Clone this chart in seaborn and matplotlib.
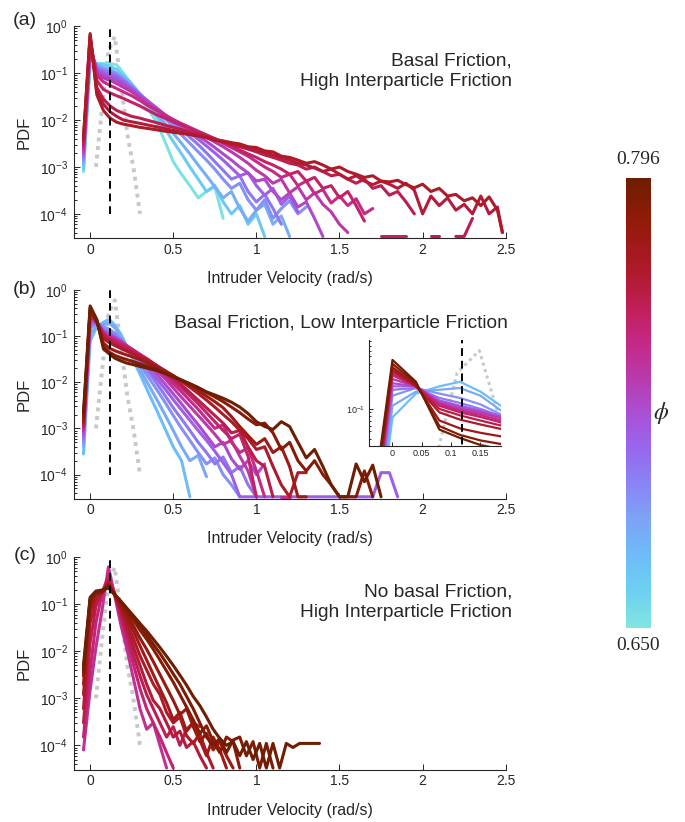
import numpy as np
import pandas as pd
import matplotlib
matplotlib.use('Agg')
import matplotlib.pyplot as plt
from matplotlib.colors import LinearSegmentedColormap, Normalize
from matplotlib.cm import ScalarMappable
from matplotlib.ticker import LogLocator, NullFormatter
import seaborn as sns

nan = np.nan

PHI_MIN = 0.650
PHI_MAX = 0.796
CBAR_POS = [0, 0.085, 0.16, 0.25, 0.32, 0.40, 0.47, 0.55, 0.63, 0.70, 0.79, 0.90, 1.0]
CBAR_COLORS = ['#80e6e0', '#6ccff2', '#6ebcf8', '#7ea0f6', '#8a84f6', '#9866ee', '#a852d8',
               '#b83cb0', '#c42a88', '#c22060', '#b01a2c', '#951a0a', '#6e1e02']

X_TICKS = [0, 0.5, 1, 1.5, 2, 2.5]
X_TICK_LABELS = ['0', '0.5', '1', '1.5', '2', '2.5']
INSET_TICKS = [0, 0.05, 0.1, 0.15]
INSET_TICK_LABELS = ['0', '0.05', '0.1', '0.15']

MEAN_VEL = 0.118
MEAN_SPAN = [1e-4, 1.0]
NOISE_VEL = [0.035, 0.073, 0.11, 0.148, 0.186, 0.224, 0.262, 0.3]
NOISE_PDF = [1e-3, 0.02, 0.3, 0.6, 0.06, 5e-3, 9e-4, 1e-4]

FLOOR = 3.3e-5

# (a) basal friction, high interparticle friction
VEL_A = [-0.04, 0.0, 0.04, 0.08, 0.12, 0.16, 0.2, 0.25, 0.3, 0.35, 0.4, 0.45, 0.5, 0.55, 0.6,
         0.65, 0.7, 0.75, 0.8, 0.85, 0.9, 0.95, 1.0, 1.05, 1.1, 1.15, 1.2, 1.25, 1.3, 1.35, 1.4,
         1.45, 1.5, 1.55, 1.6, 1.65, 1.7, 1.75, 1.8, 1.85, 1.9, 1.95, 2.0, 2.05, 2.1, 2.15, 2.2,
         2.25, 2.3, 2.35, 2.4, 2.45, 2.48]
PHI_A = [0.652, 0.666, 0.680, 0.692, 0.702, 0.712, 0.722, 0.732, 0.742, 0.750, 0.756, 0.762, 0.767]
PDF_A = [
    [8e-4, 0.14, 0.16, 0.16, 0.16, 0.15, 0.1, 0.058, 0.03, 0.017, 0.009, 0.0035, 0.0013, 7e-4,
     4e-4, 2.2e-4, 3e-4, 3.8e-4, 8e-5],
    [9e-4, 0.2, 0.16, 0.15, 0.14, 0.12, 0.09, 0.06, 0.036, 0.021, 0.012, 0.0065, 0.0035, 0.0019,
     0.001, 5.5e-4, 3e-4, 4e-4, 1.8e-4, 1e-4, 1.5e-4, 6e-5, 1e-4, FLOOR],
    [1.2e-3, 0.24, 0.15, 0.13, 0.12, 0.1, 0.08, 0.055, 0.036, 0.023, 0.014, 0.0085, 0.0052, 0.0032,
     0.0019, 0.0011, 6.5e-4, 3.8e-4, 2.2e-4, 3e-4, 1.3e-4, 7e-5, 1.2e-4, 1.6e-4, 6e-5, 9e-5, FLOOR],
    [1.4e-3, 0.27, 0.14, 0.12, 0.11, 0.095, 0.075, 0.052, 0.036, 0.025, 0.017, 0.011, 0.0072,
     0.0048, 0.0032, 0.0021, 0.0014, 9e-4, 5.5e-4, 3.5e-4, 4.5e-4, 2e-4, 1.2e-4, 2e-4, 8e-5,
     1.3e-4, 1.9e-4, 1e-4, 1.4e-4],
    [1.6e-3, 0.3, 0.13, 0.11, 0.1, 0.088, 0.07, 0.05, 0.035, 0.025, 0.018, 0.0125, 0.0088, 0.0062,
     0.0043, 0.003, 0.002, 0.0013, 8.5e-4, 5.5e-4, 6.5e-4, 3e-4, 1.8e-4, 2.6e-4, 1.3e-4, 6e-5],
    [1.8e-3, 0.33, 0.12, 0.1, 0.09, 0.08, 0.065, 0.048, 0.034, 0.025, 0.018, 0.013, 0.0098, 0.0072,
     0.0053, 0.0039, 0.0028, 0.002, 0.0014, 9.5e-4, 6.5e-4, 7.5e-4, 4e-4, 2.5e-4, 3.5e-4, 1.6e-4,
     2.4e-4, 1.1e-4],
    [2e-3, 0.37, 0.11, 0.09, 0.08, 0.07, 0.058, 0.044, 0.032, 0.024, 0.018, 0.013, 0.01, 0.0078,
     0.006, 0.0046, 0.0035, 0.0026, 0.0019, 0.0014, 0.001, 7.5e-4, 5e-4, 5.5e-4, 3e-4, 2e-4,
     2.8e-4, 1.4e-4, 1.8e-4, 8e-5, FLOOR, nan, FLOOR],
    [2.3e-3, 0.42, 0.1, 0.08, 0.07, 0.06, 0.05, 0.04, 0.03, 0.022, 0.017, 0.013, 0.0102, 0.0082,
     0.0066, 0.0053, 0.0043, 0.0034, 0.0027, 0.0021, 0.0016, 0.0012, 8.5e-4, 6.5e-4, 4.5e-4,
     5.5e-4, 2.8e-4, 3.8e-4, 2e-4, 2.8e-4, 1.6e-4, 1.1e-4, 6e-5, 4e-5],
    [2.6e-3, 0.48, 0.09, 0.065, 0.055, 0.047, 0.04, 0.033, 0.026, 0.02, 0.016, 0.0125, 0.0102,
     0.0084, 0.007, 0.0058, 0.0048, 0.004, 0.0032, 0.0026, 0.0021, 0.0017, 0.0013, 0.001, 8e-4,
     6e-4, 7e-4, 4e-4, 5e-4, 2.7e-4, 3.3e-4, 1.7e-4, 2.4e-4, 1.5e-4, 2.1e-4, 1e-4, 1.3e-4],
    [3e-3, 0.54, 0.07, 0.045, 0.038, 0.033, 0.029, 0.024, 0.02, 0.016, 0.013, 0.011, 0.0092,
     0.0078, 0.0066, 0.0056, 0.0048, 0.004, 0.0034, 0.0028, 0.0023, 0.0019, 0.0016, 0.0013,
     0.0011, 9e-4, 7e-4, 8e-4, 5e-4, 6e-4, 3.5e-4, 4e-4, 2.2e-4, 3e-4, 1.5e-4, 7e-5, nan, FLOOR,
     FLOOR, FLOOR, FLOOR],
    [3.5e-3, 0.6, 0.05, 0.028, 0.02, 0.016, 0.014, 0.012, 0.011, 0.0098, 0.0088, 0.0078, 0.007,
     0.0063, 0.0056, 0.005, 0.0045, 0.004, 0.0035, 0.0031, 0.0027, 0.0024, 0.0021, 0.0018, 0.0016,
     0.0014, 0.0012, 0.0011, 9e-4, 0.001, 8e-4, 6.5e-4, 7e-4, 5.5e-4, 4.5e-4, 5.5e-4, 3.5e-4,
     4e-4, 2.5e-4, 3e-4, 1.8e-4, 1e-4, nan, FLOOR, FLOOR, nan, FLOOR, FLOOR, 8e-5],
    [3.8e-3, 0.65, 0.04, 0.022, 0.015, 0.012, 0.01, 0.0092, 0.0085, 0.0078, 0.0072, 0.0066, 0.006,
     0.0055, 0.005, 0.0046, 0.0042, 0.0038, 0.0034, 0.0031, 0.0028, 0.0025, 0.0023, 0.002, 0.0018,
     0.0016, 0.0014, 0.0012, 0.0011, 9.5e-4, 8e-4, 9e-4, 7e-4, 5.5e-4, 6.5e-4, 5e-4, 4.2e-4, 5e-4,
     4.3e-4, 3.5e-4, 4.5e-4, 3.2e-4, 1e-4, 2.4e-4, 1.5e-4, 2.2e-4, 1.2e-4, 1.6e-4, 1e-4, 2.4e-4,
     1e-4, 1.4e-4, 4e-5],
    [4.2e-3, 0.7, 0.035, 0.016, 0.011, 0.009, 0.0082, 0.0076, 0.007, 0.0066, 0.0062, 0.0058,
     0.0055, 0.0052, 0.0049, 0.0046, 0.0043, 0.0037, 0.0036, 0.0033, 0.0031, 0.0027, 0.0026,
     0.0022, 0.0021, 0.0017, 0.0016, 0.0014, 0.0012, 0.0013, 0.0011, 9e-4, 0.001, 8e-4, 7e-4,
     6e-4, 6.5e-4, 5e-4, 4.8e-4, 5.2e-4, 4.2e-4, 3.6e-4, 4.3e-4, 3e-4, 3.5e-4, 2.4e-4, 2.6e-4,
     1.9e-4, 2.2e-4, 1.5e-4, 2.3e-4, 1.2e-4, 4e-5],
]

# (b) basal friction, low interparticle friction
VEL_B = [-0.04, 0.0, 0.04, 0.08, 0.115, 0.15, 0.185, 0.22, 0.26, 0.3, 0.35, 0.4, 0.45, 0.5,
         0.55, 0.6, 0.65, 0.7, 0.75, 0.8, 0.85, 0.9, 0.95, 1.0, 1.05, 1.1, 1.15, 1.2, 1.25, 1.3,
         1.35, 1.4, 1.45, 1.5, 1.55, 1.6, 1.65, 1.7, 1.75, 1.8, 1.85]
PHI_B = [0.673, 0.682, 0.692, 0.702, 0.712, 0.722, 0.732, 0.742, 0.750, 0.758, 0.766, 0.776,
         0.786, 0.796]
PDF_B = [
    [2.8e-4, 0.077, 0.16, 0.2, 0.23, 0.17, 0.11, 0.06, 0.03, 0.015, 0.006, 0.0025, 0.001, 4e-4,
     2e-4, FLOOR],
    [4e-4, 0.11, 0.17, 0.18, 0.19, 0.15, 0.095, 0.058, 0.033, 0.019, 0.009, 0.0043, 0.002, 9e-4,
     4e-4, 2e-4, 2.6e-4, 9e-5],
    [5e-4, 0.15, 0.19, 0.16, 0.14, 0.115, 0.084, 0.06, 0.038, 0.024, 0.013, 0.007, 0.0037,
     0.0019, 0.001, 5.5e-4, 3e-4, 1.7e-4, 2.3e-4, 1e-4, 6e-5, FLOOR],
    [6e-4, 0.18, 0.19, 0.14, 0.12, 0.1, 0.08, 0.06, 0.042, 0.029, 0.017, 0.0095, 0.0052, 0.0028,
     0.0016, 9e-4, 5e-4, 3e-4, 1.7e-4, 2.4e-4, 1.1e-4, 1.5e-4, 6e-5, FLOOR],
    [7e-4, 0.2, 0.2, 0.13, 0.11, 0.095, 0.08, 0.062, 0.045, 0.032, 0.02, 0.012, 0.0072, 0.0042,
     0.0025, 0.0015, 9e-4, 5.5e-4, 3.2e-4, 1.8e-4, 1e-4, FLOOR, FLOOR, FLOOR, FLOOR, FLOOR,
     FLOOR, FLOOR, FLOOR, FLOOR, FLOOR, FLOOR, FLOOR, FLOOR, FLOOR, FLOOR, FLOOR, FLOOR,
     1.1e-4, 1.1e-4, FLOOR],
    [8e-4, 0.22, 0.2, 0.125, 0.105, 0.092, 0.078, 0.063, 0.048, 0.036, 0.024, 0.015, 0.0092,
     0.0056, 0.0034, 0.002, 0.0012, 7e-4, 4e-4, 5e-4, 2.2e-4, 1.3e-4, 2e-4, 1e-4, 1.7e-4],
    [9e-4, 0.25, 0.2, 0.12, 0.1, 0.088, 0.075, 0.062, 0.05, 0.039, 0.027, 0.018, 0.012, 0.0075,
     0.0047, 0.003, 0.0019, 0.0012, 7.5e-4, 4.5e-4, 5.5e-4, 2.5e-4, 1.2e-4, FLOOR],
    [1e-3, 0.28, 0.2, 0.115, 0.095, 0.083, 0.07, 0.06, 0.05, 0.04, 0.03, 0.021, 0.014, 0.0093,
     0.0062, 0.004, 0.0026, 0.0016, 0.001, 0.0012, 5e-4, 3e-4, 3.8e-4, 1.2e-4, FLOOR, nan,
     FLOOR, FLOOR],
    [1.1e-3, 0.3, 0.2, 0.11, 0.09, 0.078, 0.066, 0.057, 0.048, 0.04, 0.031, 0.023, 0.016, 0.011,
     0.0076, 0.0051, 0.0034, 0.0022, 0.0014, 9e-4, 6e-4, 7.5e-4, 2.5e-4, FLOOR],
    [1.2e-3, 0.32, 0.2, 0.1, 0.082, 0.07, 0.06, 0.052, 0.045, 0.038, 0.03, 0.023, 0.017, 0.0125,
     0.0088, 0.006, 0.0041, 0.0028, 0.0019, 0.0013, 8e-4, 9e-4, 4e-4, 2e-4, 1.5e-4, FLOOR],
    [1.3e-3, 0.34, 0.2, 0.09, 0.072, 0.062, 0.054, 0.047, 0.041, 0.035, 0.029, 0.023, 0.018,
     0.014, 0.0105, 0.0078, 0.0057, 0.0041, 0.0029, 0.002, 0.0014, 9e-4, 6e-4, 3.5e-4, 4e-4,
     1.5e-4, 6e-5, FLOOR, 1.1e-4, 1.1e-4],
    [1.5e-3, 0.36, 0.21, 0.07, 0.055, 0.048, 0.043, 0.039, 0.035, 0.031, 0.026, 0.021, 0.017,
     0.0135, 0.0108, 0.0085, 0.0066, 0.005, 0.0038, 0.0028, 0.0018, 0.0011, 7e-4, 4.5e-4, 6e-4,
     3e-4, 4e-4, 1.5e-4, FLOOR, FLOOR],
    [1.8e-3, 0.4, 0.22, 0.059, 0.045, 0.038, 0.034, 0.031, 0.028, 0.025, 0.022, 0.019, 0.016,
     0.0135, 0.0112, 0.0092, 0.0075, 0.006, 0.0048, 0.0038, 0.0029, 0.0022, 0.0016, 0.0012,
     0.0013, 8e-4, 3.5e-4, 5e-4, 2e-4, 1.2e-4, 2e-4, 1e-4, 6e-5, FLOOR, FLOOR, FLOOR, 1.2e-4,
     FLOOR],
    [2.2e-3, 0.45, 0.23, 0.053, 0.041, 0.033, 0.029, 0.026, 0.024, 0.022, 0.02, 0.018, 0.0155,
     0.013, 0.011, 0.0093, 0.0077, 0.0062, 0.0053, 0.0045, 0.0037, 0.0029, 0.0021, 0.0014, 0.0011,
     9.5e-4, 0.0014, 0.0011, 5e-4, 2.3e-4, 3.5e-4, 1.5e-4, 6e-5, FLOOR, FLOOR, 1.7e-4, 7e-5,
     1.6e-4, FLOOR],
]

# (c) no basal friction, high interparticle friction
VEL_C = [-0.04, 0.0, 0.035, 0.073, 0.11, 0.148, 0.186, 0.224, 0.262, 0.3, 0.34, 0.38, 0.42,
         0.46, 0.5, 0.54, 0.58, 0.62, 0.66, 0.7, 0.74, 0.78, 0.82, 0.86, 0.9, 0.94, 0.98, 1.02,
         1.06, 1.1, 1.14, 1.18, 1.22, 1.26, 1.3, 1.34, 1.38]
PHI_C = [0.738, 0.748, 0.756, 0.762, 0.768, 0.774, 0.780, 0.786, 0.790, 0.796]
PDF_C = [
    [8e-5, 1.5e-3, 0.012, 0.08, 0.62, 0.15, 0.035, 0.01, 0.0025, 6e-4, 2.2e-4, 3e-4, 1e-4, FLOOR],
    [1.5e-4, 0.004, 0.04, 0.18, 0.4, 0.17, 0.05, 0.016, 0.005, 0.0016, 6e-4, 3e-4, 1.5e-4, 7e-5,
     FLOOR],
    [3e-4, 0.015, 0.09, 0.18, 0.32, 0.16, 0.06, 0.022, 0.008, 0.003, 0.0012, 6e-4, 3e-4, 1.5e-4,
     2.5e-4, 1e-4, 2.2e-4, 3e-4, 2.5e-4],
    [6e-4, 0.04, 0.12, 0.18, 0.3, 0.16, 0.07, 0.03, 0.012, 0.005, 0.002, 9e-4, 6e-4, 3e-4, 1.5e-4,
     2e-4, 9e-5, 1.2e-4, 6e-5, FLOOR],
    [1.2e-3, 0.07, 0.15, 0.18, 0.28, 0.16, 0.08, 0.038, 0.018, 0.008, 0.004, 0.002, 0.0012, 5e-4,
     3e-4, 4e-4, 1.6e-4, 1.1e-4, 1.8e-4, 7e-5, FLOOR],
    [2e-3, 0.09, 0.16, 0.18, 0.26, 0.16, 0.09, 0.048, 0.026, 0.013, 0.0065, 0.0032, 0.0016, 8e-4,
     3.5e-4, 5e-4, 2e-4, 3e-4, 1.3e-4, 6e-5, 1.5e-4, 8e-5, FLOOR],
    [3e-3, 0.11, 0.17, 0.18, 0.25, 0.16, 0.1, 0.058, 0.034, 0.019, 0.011, 0.006, 0.0032, 0.0017,
     9e-4, 4.5e-4, 6e-4, 2.5e-4, 1.2e-4, 1.8e-4, 8e-5, 1.2e-4, 6e-5, FLOOR],
    [3.5e-3, 0.12, 0.18, 0.19, 0.24, 0.16, 0.11, 0.07, 0.045, 0.028, 0.018, 0.011, 0.0065, 0.0038,
     0.0022, 0.0012, 6.5e-4, 3.5e-4, 1.8e-4, 2.6e-4, 1.2e-4, 7e-5, 1.5e-4, 1.2e-4, FLOOR],
    [4e-3, 0.13, 0.18, 0.19, 0.23, 0.16, 0.11, 0.075, 0.05, 0.034, 0.022, 0.014, 0.009, 0.0055,
     0.0033, 0.002, 0.0011, 6e-4, 3e-4, 1.5e-4, 1e-4, 1.4e-4, 7e-5, 1.3e-4, 1.5e-4, 6e-5, 1.2e-4,
     FLOOR, 1.1e-4, FLOOR],
    [5e-3, 0.14, 0.19, 0.2, 0.22, 0.16, 0.115, 0.08, 0.056, 0.039, 0.027, 0.018, 0.012, 0.0078,
     0.005, 0.0031, 0.0019, 0.0011, 7e-4, 4e-4, 2.2e-4, 1.4e-4, 1e-4, 1.2e-4, 6e-5, 1.2e-4, 5e-5,
     1.1e-4, FLOOR, 1.1e-4, FLOOR, 1.1e-4, 9e-5, 1.1e-4, 1.1e-4, 1.1e-4, 1.1e-4],
]

PANEL_LABELS = ['(a)', '(b)', '(c)']
PANEL_TITLES = ['Basal Friction,\nHigh Interparticle Friction',
                'Basal Friction, Low Interparticle Friction',
                'No basal Friction,\nHigh Interparticle Friction']

sns.set_style('ticks')
plt.rcParams['font.family'] = ['Liberation Sans', 'DejaVu Sans']
plt.rcParams['mathtext.fontset'] = 'custom'
plt.rcParams['mathtext.rm'] = 'Liberation Sans'
plt.rcParams['mathtext.it'] = 'Liberation Sans:italic'
plt.rcParams['axes.edgecolor'] = '#262626'
plt.rcParams['axes.linewidth'] = 0.8

CMAP = LinearSegmentedColormap.from_list('phi', list(zip(CBAR_POS, CBAR_COLORS)))
NORM = Normalize(PHI_MIN, PHI_MAX)
INK = '#262626'


def to_long(vel, phis, curves):
    rows = []
    for k, (phi, ys) in enumerate(zip(phis, curves)):
        seg = 0
        for x, y in zip(vel, ys):
            if np.isnan(y):
                seg += 1
                continue
            rows.append((x, y, phi, f'{k}-{seg}'))
    return pd.DataFrame(rows, columns=['vel', 'pdf', 'phi', 'seg'])


def draw_curves(ax, df, lw):
    sns.lineplot(x=NOISE_VEL, y=NOISE_PDF, color='#c8c8c8', lw=lw + 0.6,
                 linestyle=(0, (1, 1.2)), estimator=None, sort=False, ax=ax)
    sns.lineplot(data=df, x='vel', y='pdf', hue='phi', units='seg', estimator=None,
                 palette=CMAP, hue_norm=NORM, lw=lw, legend=False, sort=False, ax=ax)
    ax.vlines(MEAN_VEL, *MEAN_SPAN, colors='k', linestyles=(0, (4, 2.5)), lw=1.4, zorder=5)


def style_axes(ax, ticks, labels, size, major, pad):
    sns.despine(ax=ax)
    ax.set_xticks(ticks)
    ax.set_xticklabels(labels)
    ax.yaxis.set_major_locator(LogLocator(base=10, numticks=10))
    ax.yaxis.set_minor_locator(LogLocator(base=10, subs=np.arange(2, 10), numticks=20))
    ax.yaxis.set_minor_formatter(NullFormatter())
    ax.tick_params(which='both', direction='in', color=INK, labelcolor=INK, width=0.7,
                   labelsize=size)
    ax.tick_params(which='major', length=major)
    ax.tick_params(which='minor', length=major * 0.55)
    ax.tick_params(axis='x', which='minor', bottom=False)
    ax.tick_params(axis='x', pad=pad)
    ax.tick_params(axis='y', pad=pad + 1)


fig = plt.figure(figsize=(6.85, 8.22), dpi=100)

boxes = [[0.1073, 0.710, 0.631, 0.258],
         [0.1073, 0.3933, 0.631, 0.254],
         [0.1073, 0.0633, 0.631, 0.259]]
frames = [to_long(VEL_A, PHI_A, PDF_A), to_long(VEL_B, PHI_B, PDF_B),
          to_long(VEL_C, PHI_C, PDF_C)]
label_y = [0.9745, 0.6484, 0.3248]
title_pos = [(0.7474, 0.9136), (0.7416, 0.607), (0.7474, 0.267)]

for i in range(3):
    ax = fig.add_axes(boxes[i])
    ax.set_yscale('log')
    draw_curves(ax, frames[i], 2.2)
    ax.set_xlim(-0.1, 2.5)
    ax.set_ylim(3e-5, 1)
    style_axes(ax, X_TICKS, X_TICK_LABELS, 10, 4.5, 3.2)
    ax.set_xlabel('Intruder Velocity (rad/s)', fontsize=11.5, color=INK)
    ax.set_ylabel('PDF', fontsize=12, color=INK)
    ax.xaxis.set_label_coords(0.5, -0.155)
    ax.yaxis.set_label_coords(-0.098, 0.5)
    fig.text(0.0365, label_y[i], PANEL_LABELS[i], fontsize=14, ha='center', va='center')
    fig.text(*title_pos[i], PANEL_TITLES[i], fontsize=13.8, ha='right', va='center',
             ma='right', linespacing=1.3)

ins = fig.add_axes([0.5387, 0.4574, 0.1927, 0.129])
ins.set_yscale('log')
draw_curves(ins, frames[1], 1.6)
ins.set_xlim(-0.04, 0.185)
ins.set_ylim(0.032, 0.83)
style_axes(ins, INSET_TICKS, INSET_TICK_LABELS, 6.5, 3, 2)
ins.set_xlabel('')
ins.set_ylabel('')

cax = fig.add_axes([0.9139, 0.2356, 0.0369, 0.5474])
cbar = fig.colorbar(ScalarMappable(norm=NORM, cmap=CMAP), cax=cax)
cbar.set_ticks([])
cbar.outline.set_visible(False)
fig.text(0.932, 1 - 160 / 822, f'{PHI_MAX:.3f}', family='Liberation Serif', fontsize=14,
         ha='center', va='center')
fig.text(0.932, 1 - 645 / 822, f'{PHI_MIN:.3f}', family='Liberation Serif', fontsize=14,
         ha='center', va='center')
fig.text(0.965, 1 - 413 / 822, r'$\phi$', math_fontfamily='stix', fontsize=17,
         ha='center', va='center')

fig.savefig('out.png', dpi=100)
